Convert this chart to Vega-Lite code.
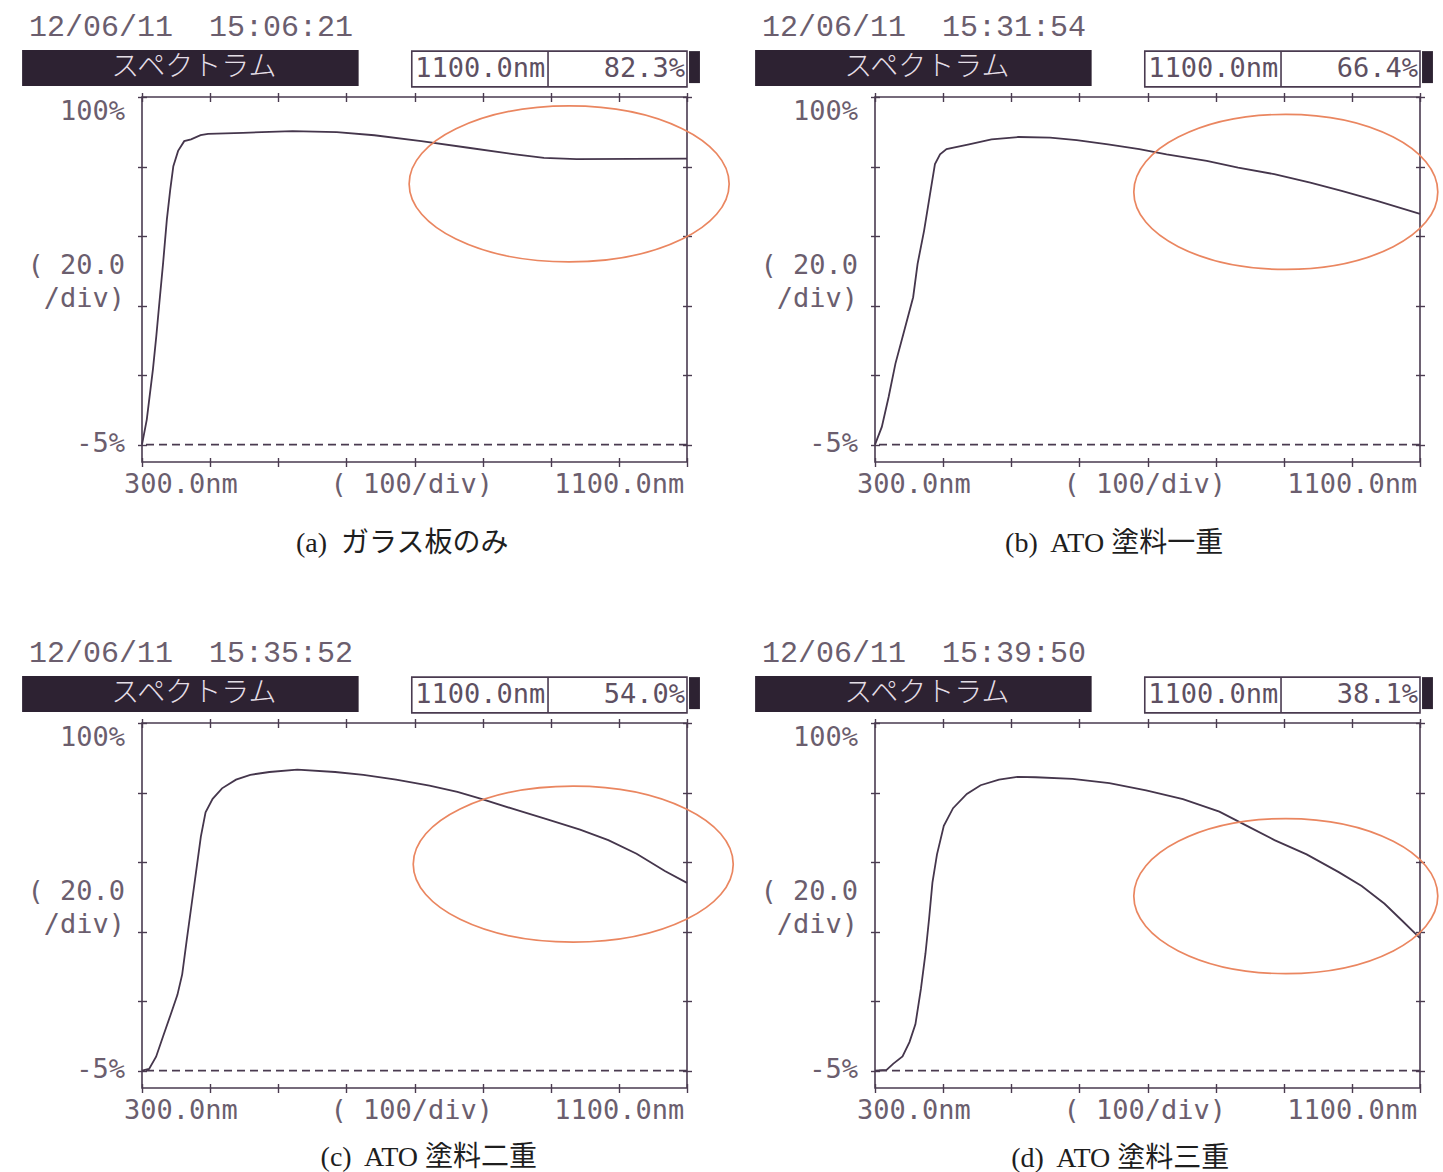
{
"$schema":"https://vega.github.io/schema/vega-lite/v6.json",
"background":"#ffffff",
"padding":{"left":21,"top":11,"right":5,"bottom":5},
"autosize":{"type":"pad"},
"bounds":"flush",
"columns":2,
"spacing":{"row":261,"column":188},
"datasets":{"spectra":[
{"panel":"a","wavelength":300,"transmittance":0},
{"panel":"a","wavelength":307,"transmittance":7.2},
{"panel":"a","wavelength":310,"transmittance":12.0},
{"panel":"a","wavelength":316,"transmittance":21.6},
{"panel":"a","wavelength":321,"transmittance":31.2},
{"panel":"a","wavelength":325.5,"transmittance":40.8},
{"panel":"a","wavelength":331,"transmittance":52.3},
{"panel":"a","wavelength":336.5,"transmittance":64.8},
{"panel":"a","wavelength":341.5,"transmittance":73.4},
{"panel":"a","wavelength":346,"transmittance":80.1},
{"panel":"a","wavelength":353,"transmittance":84.5},
{"panel":"a","wavelength":362,"transmittance":87.3},
{"panel":"a","wavelength":372,"transmittance":87.8},
{"panel":"a","wavelength":386,"transmittance":89.0},
{"panel":"a","wavelength":397,"transmittance":89.4},
{"panel":"a","wavelength":448,"transmittance":89.7},
{"panel":"a","wavelength":521,"transmittance":90.2},
{"panel":"a","wavelength":586,"transmittance":89.9},
{"panel":"a","wavelength":641,"transmittance":89.0},
{"panel":"a","wavelength":710,"transmittance":87.3},
{"panel":"a","wavelength":779,"transmittance":85.4},
{"panel":"a","wavelength":848,"transmittance":83.5},
{"panel":"a","wavelength":890,"transmittance":82.5},
{"panel":"a","wavelength":938,"transmittance":82.1},
{"panel":"a","wavelength":1100,"transmittance":82.3},
{"panel":"b","wavelength":300,"transmittance":0},
{"panel":"b","wavelength":310,"transmittance":5.1},
{"panel":"b","wavelength":320,"transmittance":13.7},
{"panel":"b","wavelength":330,"transmittance":23.3},
{"panel":"b","wavelength":343,"transmittance":32.8},
{"panel":"b","wavelength":356,"transmittance":42.4},
{"panel":"b","wavelength":362.5,"transmittance":52.0},
{"panel":"b","wavelength":372,"transmittance":61.5},
{"panel":"b","wavelength":380,"transmittance":71.1},
{"panel":"b","wavelength":388,"transmittance":80.7},
{"panel":"b","wavelength":395.5,"transmittance":83.5},
{"panel":"b","wavelength":405,"transmittance":85.0},
{"panel":"b","wavelength":438,"transmittance":86.4},
{"panel":"b","wavelength":471,"transmittance":87.8},
{"panel":"b","wavelength":511,"transmittance":88.5},
{"panel":"b","wavelength":557,"transmittance":88.3},
{"panel":"b","wavelength":596,"transmittance":87.6},
{"panel":"b","wavelength":642,"transmittance":86.4},
{"panel":"b","wavelength":688,"transmittance":85.0},
{"panel":"b","wavelength":728,"transmittance":83.5},
{"panel":"b","wavelength":787,"transmittance":81.6},
{"panel":"b","wavelength":833,"transmittance":79.7},
{"panel":"b","wavelength":886,"transmittance":77.8},
{"panel":"b","wavelength":939,"transmittance":75.4},
{"panel":"b","wavelength":985,"transmittance":73.0},
{"panel":"b","wavelength":1037,"transmittance":70.1},
{"panel":"b","wavelength":1100,"transmittance":66.4},
{"panel":"c","wavelength":300,"transmittance":0},
{"panel":"c","wavelength":310.4,"transmittance":0.5},
{"panel":"c","wavelength":320.7,"transmittance":4.0},
{"panel":"c","wavelength":331,"transmittance":9.9},
{"panel":"c","wavelength":341.5,"transmittance":15.8},
{"panel":"c","wavelength":352,"transmittance":21.8},
{"panel":"c","wavelength":359,"transmittance":27.7},
{"panel":"c","wavelength":365.7,"transmittance":37.6},
{"panel":"c","wavelength":372.6,"transmittance":47.5},
{"panel":"c","wavelength":379.5,"transmittance":57.4},
{"panel":"c","wavelength":386.4,"transmittance":67.3},
{"panel":"c","wavelength":393.3,"transmittance":74.3},
{"panel":"c","wavelength":403.7,"transmittance":78.2},
{"panel":"c","wavelength":417.5,"transmittance":81.2},
{"panel":"c","wavelength":438,"transmittance":83.7},
{"panel":"c","wavelength":459,"transmittance":85.1},
{"panel":"c","wavelength":487,"transmittance":85.9},
{"panel":"c","wavelength":528,"transmittance":86.6},
{"panel":"c","wavelength":583.5,"transmittance":85.9},
{"panel":"c","wavelength":625,"transmittance":85.1},
{"panel":"c","wavelength":673,"transmittance":83.7},
{"panel":"c","wavelength":722,"transmittance":82.0},
{"panel":"c","wavelength":763,"transmittance":80.2},
{"panel":"c","wavelength":798,"transmittance":78.2},
{"panel":"c","wavelength":846,"transmittance":75.2},
{"panel":"c","wavelength":895,"transmittance":72.3},
{"panel":"c","wavelength":943,"transmittance":69.3},
{"panel":"c","wavelength":984.5,"transmittance":66.3},
{"panel":"c","wavelength":1026,"transmittance":62.4},
{"panel":"c","wavelength":1067.5,"transmittance":57.4},
{"panel":"c","wavelength":1100,"transmittance":54.0},
{"panel":"d","wavelength":300,"transmittance":0},
{"panel":"d","wavelength":317,"transmittance":0.2},
{"panel":"d","wavelength":327,"transmittance":2.0},
{"panel":"d","wavelength":340.4,"transmittance":4.1},
{"panel":"d","wavelength":350.6,"transmittance":8.2},
{"panel":"d","wavelength":359.3,"transmittance":13.3},
{"panel":"d","wavelength":367.4,"transmittance":23.5},
{"panel":"d","wavelength":374.1,"transmittance":33.7},
{"panel":"d","wavelength":379.5,"transmittance":43.9},
{"panel":"d","wavelength":384.3,"transmittance":54.1},
{"panel":"d","wavelength":391,"transmittance":62.2},
{"panel":"d","wavelength":401,"transmittance":70.4},
{"panel":"d","wavelength":414.6,"transmittance":75.5},
{"panel":"d","wavelength":434.8,"transmittance":79.6},
{"panel":"d","wavelength":455,"transmittance":82.1},
{"panel":"d","wavelength":482,"transmittance":83.7},
{"panel":"d","wavelength":509,"transmittance":84.5},
{"panel":"d","wavelength":536,"transmittance":84.4},
{"panel":"d","wavelength":590,"transmittance":83.9},
{"panel":"d","wavelength":644,"transmittance":82.7},
{"panel":"d","wavelength":698,"transmittance":80.6},
{"panel":"d","wavelength":752,"transmittance":78.1},
{"panel":"d","wavelength":805.5,"transmittance":74.5},
{"panel":"d","wavelength":846,"transmittance":70.4},
{"panel":"d","wavelength":886.4,"transmittance":66.3},
{"panel":"d","wavelength":933.6,"transmittance":62.2},
{"panel":"d","wavelength":980.7,"transmittance":57.1},
{"panel":"d","wavelength":1014.4,"transmittance":53.1},
{"panel":"d","wavelength":1048,"transmittance":48.0},
{"panel":"d","wavelength":1075,"transmittance":42.9},
{"panel":"d","wavelength":1100,"transmittance":38.1}
]},
"concat":[
{"width":545,"height":365,"data":{"values":[{}]},"resolve":{"axis":{"x":"independent","y":"independent"}},"layer":[
{"data":{"name":"spectra"},"transform":[{"filter":"datum.panel === 'a'"}],"mark":{"type":"line","color":"#45364c","strokeWidth":1.8},"encoding":{"x":{"field":"wavelength","type":"quantitative","scale":{"domain":[300,1100],"nice":false,"zero":false},"axis":{"orient":"bottom","values":[300,400,500,600,700,800,900,1000,1100],"title":null}},"y":{"field":"transmittance","type":"quantitative","scale":{"domain":[-5,100],"nice":false,"zero":false},"axis":{"orient":"left","values":[0,20,40,60,80,100],"title":null}}}},
{"mark":{"type":"rule","color":"#4a3b50","strokeWidth":1.6,"strokeDash":[8,5]},"encoding":{"y":{"datum":0,"type":"quantitative","axis":{"orient":"right","values":[0,20,40,60,80,100],"title":null}}}},
{"mark":{"type":"point","shape":"M-1,0C-1,-0.2692,-0.5523,-0.4875,0,-0.4875C0.5523,-0.4875,1,-0.2692,1,0C1,0.2692,0.5523,0.4875,0,0.4875C-0.5523,0.4875,-1,0.2692,-1,0Z","size":102400,"filled":false,"stroke":"#ea8660","strokeWidth":1.7,"opacity":1},"encoding":{"x":{"datum":927,"type":"quantitative","axis":{"orient":"top","values":[300,400,500,600,700,800,900,1000,1100],"title":null}},"y":{"datum":75,"type":"quantitative","axis":null}}},
{"mark":{"type":"rect","color":"#2d2232"},"encoding":{"x":{"datum":124,"type":"quantitative","axis":null},"x2":{"datum":618},"y":{"datum":113.5,"type":"quantitative","axis":null},"y2":{"datum":103.2}}},
{"mark":{"type":"text","font":"Noto Sans CJK JP","fontSize":28,"fontWeight":300,"color":"#e4dee6","align":"center","baseline":"middle"},"encoding":{"x":{"datum":376,"type":"quantitative","axis":null},"y":{"datum":108.2,"type":"quantitative","axis":null},"text":{"value":"スペクトラム"}}},
{"mark":{"type":"text","font":"Liberation Mono","fontSize":30,"color":"#6b5e6e","align":"left","baseline":"middle"},"encoding":{"x":{"datum":134,"type":"quantitative","axis":null},"y":{"datum":120,"type":"quantitative","axis":null},"text":{"value":"12/06/11\u00a0\u00a015:06:21"}}},
{"mark":{"type":"rect","fill":"#ffffff","stroke":"#4a3b50","strokeWidth":1.6},"encoding":{"x":{"datum":696,"type":"quantitative","axis":null},"x2":{"datum":1100},"y":{"datum":113.2,"type":"quantitative","axis":null},"y2":{"datum":102.9}}},
{"mark":{"type":"rule","color":"#4a3b50","strokeWidth":1.6},"encoding":{"x":{"datum":896,"type":"quantitative","axis":null},"y":{"datum":113.2,"type":"quantitative","axis":null},"y2":{"datum":102.9}}},
{"mark":{"type":"rect","color":"#2d2232"},"encoding":{"x":{"datum":1103,"type":"quantitative","axis":null},"x2":{"datum":1119},"y":{"datum":113.2,"type":"quantitative","axis":null},"y2":{"datum":104}}},
{"mark":{"type":"text","font":"DejaVu Sans Mono","fontSize":27,"color":"#5e5062","align":"left","baseline":"middle"},"encoding":{"x":{"datum":701,"type":"quantitative","axis":null},"y":{"datum":108,"type":"quantitative","axis":null},"text":{"value":"1100.0nm"}}},
{"mark":{"type":"text","font":"DejaVu Sans Mono","fontSize":27,"color":"#5e5062","align":"right","baseline":"middle"},"encoding":{"x":{"datum":1097,"type":"quantitative","axis":null},"y":{"datum":108,"type":"quantitative","axis":null},"text":{"value":"82.3%"}}},
{"mark":{"type":"text","font":"DejaVu Sans Mono","fontSize":27,"color":"#6b5e6e","align":"right","baseline":"middle"},"encoding":{"x":{"datum":275,"type":"quantitative","axis":null},"y":{"datum":95.7,"type":"quantitative","axis":null},"text":{"value":"100%"}}},
{"mark":{"type":"text","font":"DejaVu Sans Mono","fontSize":27,"color":"#6b5e6e","align":"right","baseline":"middle"},"encoding":{"x":{"datum":275,"type":"quantitative","axis":null},"y":{"datum":51.4,"type":"quantitative","axis":null},"text":{"value":"( 20.0"}}},
{"mark":{"type":"text","font":"DejaVu Sans Mono","fontSize":27,"color":"#6b5e6e","align":"right","baseline":"middle"},"encoding":{"x":{"datum":275,"type":"quantitative","axis":null},"y":{"datum":41.9,"type":"quantitative","axis":null},"text":{"value":"/div)"}}},
{"mark":{"type":"text","font":"DejaVu Sans Mono","fontSize":27,"color":"#6b5e6e","align":"right","baseline":"middle"},"encoding":{"x":{"datum":275,"type":"quantitative","axis":null},"y":{"datum":0.2,"type":"quantitative","axis":null},"text":{"value":"-5%"}}},
{"mark":{"type":"text","font":"DejaVu Sans Mono","fontSize":27,"color":"#6b5e6e","align":"left","baseline":"middle"},"encoding":{"x":{"datum":273.6,"type":"quantitative","axis":null},"y":{"datum":-11.6,"type":"quantitative","axis":null},"text":{"value":"300.0nm"}}},
{"mark":{"type":"text","font":"DejaVu Sans Mono","fontSize":27,"color":"#6b5e6e","align":"center","baseline":"middle"},"encoding":{"x":{"datum":696,"type":"quantitative","axis":null},"y":{"datum":-11.6,"type":"quantitative","axis":null},"text":{"value":"( 100/div)"}}},
{"mark":{"type":"text","font":"DejaVu Sans Mono","fontSize":27,"color":"#6b5e6e","align":"right","baseline":"middle"},"encoding":{"x":{"datum":1096,"type":"quantitative","axis":null},"y":{"datum":-11.6,"type":"quantitative","axis":null},"text":{"value":"1100.0nm"}}},
{"mark":{"type":"text","font":"'Liberation Serif', 'Noto Sans CJK JP'","fontSize":28,"color":"#1e1e1e","align":"center","baseline":"middle"},"encoding":{"x":{"datum":682,"type":"quantitative","axis":null},"y":{"datum":-28.6,"type":"quantitative","axis":null},"text":{"value":"(a)\u00a0 ガラス板のみ"}}}
]},
{"width":545,"height":365,"data":{"values":[{}]},"resolve":{"axis":{"x":"independent","y":"independent"}},"layer":[
{"data":{"name":"spectra"},"transform":[{"filter":"datum.panel === 'b'"}],"mark":{"type":"line","color":"#45364c","strokeWidth":1.8},"encoding":{"x":{"field":"wavelength","type":"quantitative","scale":{"domain":[300,1100],"nice":false,"zero":false},"axis":{"orient":"bottom","values":[300,400,500,600,700,800,900,1000,1100],"title":null}},"y":{"field":"transmittance","type":"quantitative","scale":{"domain":[-5,100],"nice":false,"zero":false},"axis":{"orient":"left","values":[0,20,40,60,80,100],"title":null}}}},
{"mark":{"type":"rule","color":"#4a3b50","strokeWidth":1.6,"strokeDash":[8,5]},"encoding":{"y":{"datum":0,"type":"quantitative","axis":{"orient":"right","values":[0,20,40,60,80,100],"title":null}}}},
{"mark":{"type":"point","shape":"M-1,0C-1,-0.2817,-0.5523,-0.51,0,-0.51C0.5523,-0.51,1,-0.2817,1,0C1,0.2817,0.5523,0.51,0,0.51C-0.5523,0.51,-1,0.2817,-1,0Z","size":92416,"filled":false,"stroke":"#ea8660","strokeWidth":1.7,"opacity":1},"encoding":{"x":{"datum":903,"type":"quantitative","axis":{"orient":"top","values":[300,400,500,600,700,800,900,1000,1100],"title":null}},"y":{"datum":72.7,"type":"quantitative","axis":null}}},
{"mark":{"type":"rect","color":"#2d2232"},"encoding":{"x":{"datum":124,"type":"quantitative","axis":null},"x2":{"datum":618},"y":{"datum":113.5,"type":"quantitative","axis":null},"y2":{"datum":103.2}}},
{"mark":{"type":"text","font":"Noto Sans CJK JP","fontSize":28,"fontWeight":300,"color":"#e4dee6","align":"center","baseline":"middle"},"encoding":{"x":{"datum":376,"type":"quantitative","axis":null},"y":{"datum":108.2,"type":"quantitative","axis":null},"text":{"value":"スペクトラム"}}},
{"mark":{"type":"text","font":"Liberation Mono","fontSize":30,"color":"#6b5e6e","align":"left","baseline":"middle"},"encoding":{"x":{"datum":134,"type":"quantitative","axis":null},"y":{"datum":120,"type":"quantitative","axis":null},"text":{"value":"12/06/11\u00a0\u00a015:31:54"}}},
{"mark":{"type":"rect","fill":"#ffffff","stroke":"#4a3b50","strokeWidth":1.6},"encoding":{"x":{"datum":696,"type":"quantitative","axis":null},"x2":{"datum":1100},"y":{"datum":113.2,"type":"quantitative","axis":null},"y2":{"datum":102.9}}},
{"mark":{"type":"rule","color":"#4a3b50","strokeWidth":1.6},"encoding":{"x":{"datum":896,"type":"quantitative","axis":null},"y":{"datum":113.2,"type":"quantitative","axis":null},"y2":{"datum":102.9}}},
{"mark":{"type":"rect","color":"#2d2232"},"encoding":{"x":{"datum":1103,"type":"quantitative","axis":null},"x2":{"datum":1119},"y":{"datum":113.2,"type":"quantitative","axis":null},"y2":{"datum":104}}},
{"mark":{"type":"text","font":"DejaVu Sans Mono","fontSize":27,"color":"#5e5062","align":"left","baseline":"middle"},"encoding":{"x":{"datum":701,"type":"quantitative","axis":null},"y":{"datum":108,"type":"quantitative","axis":null},"text":{"value":"1100.0nm"}}},
{"mark":{"type":"text","font":"DejaVu Sans Mono","fontSize":27,"color":"#5e5062","align":"right","baseline":"middle"},"encoding":{"x":{"datum":1097,"type":"quantitative","axis":null},"y":{"datum":108,"type":"quantitative","axis":null},"text":{"value":"66.4%"}}},
{"mark":{"type":"text","font":"DejaVu Sans Mono","fontSize":27,"color":"#6b5e6e","align":"right","baseline":"middle"},"encoding":{"x":{"datum":275,"type":"quantitative","axis":null},"y":{"datum":95.7,"type":"quantitative","axis":null},"text":{"value":"100%"}}},
{"mark":{"type":"text","font":"DejaVu Sans Mono","fontSize":27,"color":"#6b5e6e","align":"right","baseline":"middle"},"encoding":{"x":{"datum":275,"type":"quantitative","axis":null},"y":{"datum":51.4,"type":"quantitative","axis":null},"text":{"value":"( 20.0"}}},
{"mark":{"type":"text","font":"DejaVu Sans Mono","fontSize":27,"color":"#6b5e6e","align":"right","baseline":"middle"},"encoding":{"x":{"datum":275,"type":"quantitative","axis":null},"y":{"datum":41.9,"type":"quantitative","axis":null},"text":{"value":"/div)"}}},
{"mark":{"type":"text","font":"DejaVu Sans Mono","fontSize":27,"color":"#6b5e6e","align":"right","baseline":"middle"},"encoding":{"x":{"datum":275,"type":"quantitative","axis":null},"y":{"datum":0.2,"type":"quantitative","axis":null},"text":{"value":"-5%"}}},
{"mark":{"type":"text","font":"DejaVu Sans Mono","fontSize":27,"color":"#6b5e6e","align":"left","baseline":"middle"},"encoding":{"x":{"datum":273.6,"type":"quantitative","axis":null},"y":{"datum":-11.6,"type":"quantitative","axis":null},"text":{"value":"300.0nm"}}},
{"mark":{"type":"text","font":"DejaVu Sans Mono","fontSize":27,"color":"#6b5e6e","align":"center","baseline":"middle"},"encoding":{"x":{"datum":696,"type":"quantitative","axis":null},"y":{"datum":-11.6,"type":"quantitative","axis":null},"text":{"value":"( 100/div)"}}},
{"mark":{"type":"text","font":"DejaVu Sans Mono","fontSize":27,"color":"#6b5e6e","align":"right","baseline":"middle"},"encoding":{"x":{"datum":1096,"type":"quantitative","axis":null},"y":{"datum":-11.6,"type":"quantitative","axis":null},"text":{"value":"1100.0nm"}}},
{"mark":{"type":"text","font":"'Liberation Serif', 'Noto Sans CJK JP'","fontSize":28,"color":"#1e1e1e","align":"center","baseline":"middle"},"encoding":{"x":{"datum":651,"type":"quantitative","axis":null},"y":{"datum":-28.6,"type":"quantitative","axis":null},"text":{"value":"(b)\u00a0 ATO 塗料一重"}}}
]},
{"width":545,"height":365,"data":{"values":[{}]},"resolve":{"axis":{"x":"independent","y":"independent"}},"layer":[
{"data":{"name":"spectra"},"transform":[{"filter":"datum.panel === 'c'"}],"mark":{"type":"line","color":"#45364c","strokeWidth":1.8},"encoding":{"x":{"field":"wavelength","type":"quantitative","scale":{"domain":[300,1100],"nice":false,"zero":false},"axis":{"orient":"bottom","values":[300,400,500,600,700,800,900,1000,1100],"title":null}},"y":{"field":"transmittance","type":"quantitative","scale":{"domain":[-5,100],"nice":false,"zero":false},"axis":{"orient":"left","values":[0,20,40,60,80,100],"title":null}}}},
{"mark":{"type":"rule","color":"#4a3b50","strokeWidth":1.6,"strokeDash":[8,5]},"encoding":{"y":{"datum":0,"type":"quantitative","axis":{"orient":"right","values":[0,20,40,60,80,100],"title":null}}}},
{"mark":{"type":"point","shape":"M-1,0C-1,-0.2692,-0.5523,-0.4875,0,-0.4875C0.5523,-0.4875,1,-0.2692,1,0C1,0.2692,0.5523,0.4875,0,0.4875C-0.5523,0.4875,-1,0.2692,-1,0Z","size":102400,"filled":false,"stroke":"#ea8660","strokeWidth":1.7,"opacity":1},"encoding":{"x":{"datum":933,"type":"quantitative","axis":{"orient":"top","values":[300,400,500,600,700,800,900,1000,1100],"title":null}},"y":{"datum":59.4,"type":"quantitative","axis":null}}},
{"mark":{"type":"rect","color":"#2d2232"},"encoding":{"x":{"datum":124,"type":"quantitative","axis":null},"x2":{"datum":618},"y":{"datum":113.5,"type":"quantitative","axis":null},"y2":{"datum":103.2}}},
{"mark":{"type":"text","font":"Noto Sans CJK JP","fontSize":28,"fontWeight":300,"color":"#e4dee6","align":"center","baseline":"middle"},"encoding":{"x":{"datum":376,"type":"quantitative","axis":null},"y":{"datum":108.2,"type":"quantitative","axis":null},"text":{"value":"スペクトラム"}}},
{"mark":{"type":"text","font":"Liberation Mono","fontSize":30,"color":"#6b5e6e","align":"left","baseline":"middle"},"encoding":{"x":{"datum":134,"type":"quantitative","axis":null},"y":{"datum":120,"type":"quantitative","axis":null},"text":{"value":"12/06/11\u00a0\u00a015:35:52"}}},
{"mark":{"type":"rect","fill":"#ffffff","stroke":"#4a3b50","strokeWidth":1.6},"encoding":{"x":{"datum":696,"type":"quantitative","axis":null},"x2":{"datum":1100},"y":{"datum":113.2,"type":"quantitative","axis":null},"y2":{"datum":102.9}}},
{"mark":{"type":"rule","color":"#4a3b50","strokeWidth":1.6},"encoding":{"x":{"datum":896,"type":"quantitative","axis":null},"y":{"datum":113.2,"type":"quantitative","axis":null},"y2":{"datum":102.9}}},
{"mark":{"type":"rect","color":"#2d2232"},"encoding":{"x":{"datum":1103,"type":"quantitative","axis":null},"x2":{"datum":1119},"y":{"datum":113.2,"type":"quantitative","axis":null},"y2":{"datum":104}}},
{"mark":{"type":"text","font":"DejaVu Sans Mono","fontSize":27,"color":"#5e5062","align":"left","baseline":"middle"},"encoding":{"x":{"datum":701,"type":"quantitative","axis":null},"y":{"datum":108,"type":"quantitative","axis":null},"text":{"value":"1100.0nm"}}},
{"mark":{"type":"text","font":"DejaVu Sans Mono","fontSize":27,"color":"#5e5062","align":"right","baseline":"middle"},"encoding":{"x":{"datum":1097,"type":"quantitative","axis":null},"y":{"datum":108,"type":"quantitative","axis":null},"text":{"value":"54.0%"}}},
{"mark":{"type":"text","font":"DejaVu Sans Mono","fontSize":27,"color":"#6b5e6e","align":"right","baseline":"middle"},"encoding":{"x":{"datum":275,"type":"quantitative","axis":null},"y":{"datum":95.7,"type":"quantitative","axis":null},"text":{"value":"100%"}}},
{"mark":{"type":"text","font":"DejaVu Sans Mono","fontSize":27,"color":"#6b5e6e","align":"right","baseline":"middle"},"encoding":{"x":{"datum":275,"type":"quantitative","axis":null},"y":{"datum":51.4,"type":"quantitative","axis":null},"text":{"value":"( 20.0"}}},
{"mark":{"type":"text","font":"DejaVu Sans Mono","fontSize":27,"color":"#6b5e6e","align":"right","baseline":"middle"},"encoding":{"x":{"datum":275,"type":"quantitative","axis":null},"y":{"datum":41.9,"type":"quantitative","axis":null},"text":{"value":"/div)"}}},
{"mark":{"type":"text","font":"DejaVu Sans Mono","fontSize":27,"color":"#6b5e6e","align":"right","baseline":"middle"},"encoding":{"x":{"datum":275,"type":"quantitative","axis":null},"y":{"datum":0.2,"type":"quantitative","axis":null},"text":{"value":"-5%"}}},
{"mark":{"type":"text","font":"DejaVu Sans Mono","fontSize":27,"color":"#6b5e6e","align":"left","baseline":"middle"},"encoding":{"x":{"datum":273.6,"type":"quantitative","axis":null},"y":{"datum":-11.6,"type":"quantitative","axis":null},"text":{"value":"300.0nm"}}},
{"mark":{"type":"text","font":"DejaVu Sans Mono","fontSize":27,"color":"#6b5e6e","align":"center","baseline":"middle"},"encoding":{"x":{"datum":696,"type":"quantitative","axis":null},"y":{"datum":-11.6,"type":"quantitative","axis":null},"text":{"value":"( 100/div)"}}},
{"mark":{"type":"text","font":"DejaVu Sans Mono","fontSize":27,"color":"#6b5e6e","align":"right","baseline":"middle"},"encoding":{"x":{"datum":1096,"type":"quantitative","axis":null},"y":{"datum":-11.6,"type":"quantitative","axis":null},"text":{"value":"1100.0nm"}}},
{"mark":{"type":"text","font":"'Liberation Serif', 'Noto Sans CJK JP'","fontSize":28,"color":"#1e1e1e","align":"center","baseline":"middle"},"encoding":{"x":{"datum":721,"type":"quantitative","axis":null},"y":{"datum":-25.1,"type":"quantitative","axis":null},"text":{"value":"(c)\u00a0 ATO 塗料二重"}}}
]},
{"width":545,"height":365,"data":{"values":[{}]},"resolve":{"axis":{"x":"independent","y":"independent"}},"layer":[
{"data":{"name":"spectra"},"transform":[{"filter":"datum.panel === 'd'"}],"mark":{"type":"line","color":"#45364c","strokeWidth":1.8},"encoding":{"x":{"field":"wavelength","type":"quantitative","scale":{"domain":[300,1100],"nice":false,"zero":false},"axis":{"orient":"bottom","values":[300,400,500,600,700,800,900,1000,1100],"title":null}},"y":{"field":"transmittance","type":"quantitative","scale":{"domain":[-5,100],"nice":false,"zero":false},"axis":{"orient":"left","values":[0,20,40,60,80,100],"title":null}}}},
{"mark":{"type":"rule","color":"#4a3b50","strokeWidth":1.6,"strokeDash":[8,5]},"encoding":{"y":{"datum":0,"type":"quantitative","axis":{"orient":"right","values":[0,20,40,60,80,100],"title":null}}}},
{"mark":{"type":"point","shape":"M-1,0C-1,-0.2817,-0.5523,-0.51,0,-0.51C0.5523,-0.51,1,-0.2817,1,0C1,0.2817,0.5523,0.51,0,0.51C-0.5523,0.51,-1,0.2817,-1,0Z","size":92416,"filled":false,"stroke":"#ea8660","strokeWidth":1.7,"opacity":1},"encoding":{"x":{"datum":903,"type":"quantitative","axis":{"orient":"top","values":[300,400,500,600,700,800,900,1000,1100],"title":null}},"y":{"datum":50.2,"type":"quantitative","axis":null}}},
{"mark":{"type":"rect","color":"#2d2232"},"encoding":{"x":{"datum":124,"type":"quantitative","axis":null},"x2":{"datum":618},"y":{"datum":113.5,"type":"quantitative","axis":null},"y2":{"datum":103.2}}},
{"mark":{"type":"text","font":"Noto Sans CJK JP","fontSize":28,"fontWeight":300,"color":"#e4dee6","align":"center","baseline":"middle"},"encoding":{"x":{"datum":376,"type":"quantitative","axis":null},"y":{"datum":108.2,"type":"quantitative","axis":null},"text":{"value":"スペクトラム"}}},
{"mark":{"type":"text","font":"Liberation Mono","fontSize":30,"color":"#6b5e6e","align":"left","baseline":"middle"},"encoding":{"x":{"datum":134,"type":"quantitative","axis":null},"y":{"datum":120,"type":"quantitative","axis":null},"text":{"value":"12/06/11\u00a0\u00a015:39:50"}}},
{"mark":{"type":"rect","fill":"#ffffff","stroke":"#4a3b50","strokeWidth":1.6},"encoding":{"x":{"datum":696,"type":"quantitative","axis":null},"x2":{"datum":1100},"y":{"datum":113.2,"type":"quantitative","axis":null},"y2":{"datum":102.9}}},
{"mark":{"type":"rule","color":"#4a3b50","strokeWidth":1.6},"encoding":{"x":{"datum":896,"type":"quantitative","axis":null},"y":{"datum":113.2,"type":"quantitative","axis":null},"y2":{"datum":102.9}}},
{"mark":{"type":"rect","color":"#2d2232"},"encoding":{"x":{"datum":1103,"type":"quantitative","axis":null},"x2":{"datum":1119},"y":{"datum":113.2,"type":"quantitative","axis":null},"y2":{"datum":104}}},
{"mark":{"type":"text","font":"DejaVu Sans Mono","fontSize":27,"color":"#5e5062","align":"left","baseline":"middle"},"encoding":{"x":{"datum":701,"type":"quantitative","axis":null},"y":{"datum":108,"type":"quantitative","axis":null},"text":{"value":"1100.0nm"}}},
{"mark":{"type":"text","font":"DejaVu Sans Mono","fontSize":27,"color":"#5e5062","align":"right","baseline":"middle"},"encoding":{"x":{"datum":1097,"type":"quantitative","axis":null},"y":{"datum":108,"type":"quantitative","axis":null},"text":{"value":"38.1%"}}},
{"mark":{"type":"text","font":"DejaVu Sans Mono","fontSize":27,"color":"#6b5e6e","align":"right","baseline":"middle"},"encoding":{"x":{"datum":275,"type":"quantitative","axis":null},"y":{"datum":95.7,"type":"quantitative","axis":null},"text":{"value":"100%"}}},
{"mark":{"type":"text","font":"DejaVu Sans Mono","fontSize":27,"color":"#6b5e6e","align":"right","baseline":"middle"},"encoding":{"x":{"datum":275,"type":"quantitative","axis":null},"y":{"datum":51.4,"type":"quantitative","axis":null},"text":{"value":"( 20.0"}}},
{"mark":{"type":"text","font":"DejaVu Sans Mono","fontSize":27,"color":"#6b5e6e","align":"right","baseline":"middle"},"encoding":{"x":{"datum":275,"type":"quantitative","axis":null},"y":{"datum":41.9,"type":"quantitative","axis":null},"text":{"value":"/div)"}}},
{"mark":{"type":"text","font":"DejaVu Sans Mono","fontSize":27,"color":"#6b5e6e","align":"right","baseline":"middle"},"encoding":{"x":{"datum":275,"type":"quantitative","axis":null},"y":{"datum":0.2,"type":"quantitative","axis":null},"text":{"value":"-5%"}}},
{"mark":{"type":"text","font":"DejaVu Sans Mono","fontSize":27,"color":"#6b5e6e","align":"left","baseline":"middle"},"encoding":{"x":{"datum":273.6,"type":"quantitative","axis":null},"y":{"datum":-11.6,"type":"quantitative","axis":null},"text":{"value":"300.0nm"}}},
{"mark":{"type":"text","font":"DejaVu Sans Mono","fontSize":27,"color":"#6b5e6e","align":"center","baseline":"middle"},"encoding":{"x":{"datum":696,"type":"quantitative","axis":null},"y":{"datum":-11.6,"type":"quantitative","axis":null},"text":{"value":"( 100/div)"}}},
{"mark":{"type":"text","font":"DejaVu Sans Mono","fontSize":27,"color":"#6b5e6e","align":"right","baseline":"middle"},"encoding":{"x":{"datum":1096,"type":"quantitative","axis":null},"y":{"datum":-11.6,"type":"quantitative","axis":null},"text":{"value":"1100.0nm"}}},
{"mark":{"type":"text","font":"'Liberation Serif', 'Noto Sans CJK JP'","fontSize":28,"color":"#1e1e1e","align":"center","baseline":"middle"},"encoding":{"x":{"datum":660,"type":"quantitative","axis":null},"y":{"datum":-25.3,"type":"quantitative","axis":null},"text":{"value":"(d)\u00a0 ATO 塗料三重"}}}
]}
],
"config":{
"view":{"stroke":"#4a3b50","strokeWidth":1.6},
"axis":{"domain":false,"grid":false,"labels":false,"ticks":true,"tickColor":"#4a3b50","tickSize":9,"tickWidth":1.4,"offset":-4.5}
}
}
